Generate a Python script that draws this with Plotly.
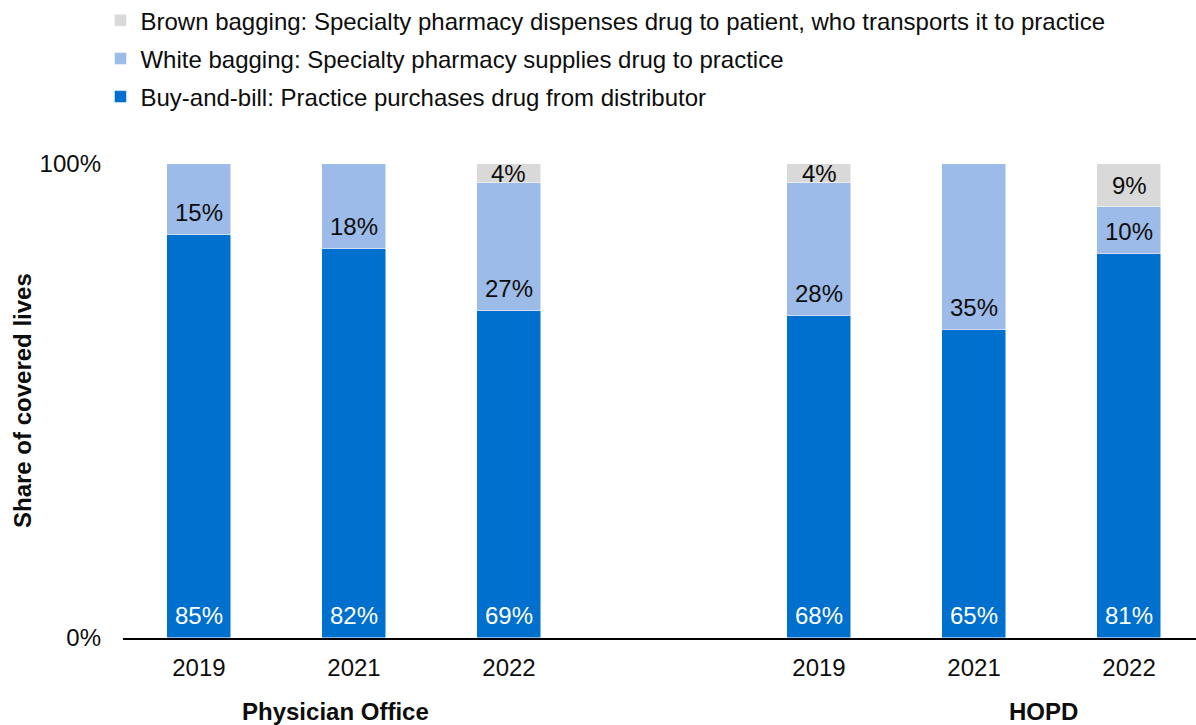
import plotly.graph_objects as go

# ---- data ----
groups = ["Physician Office", "HOPD"]
years = ["2019", "2021", "2022", "2019", "2021", "2022"]
x_pos = [0, 1, 2, 4, 5, 6]
buy_and_bill = [85, 82, 69, 68, 65, 81]
white_bagging = [15, 18, 27, 28, 35, 10]
brown_bagging = [0, 0, 4, 4, 0, 9]

series_names = [
    "Buy-and-bill: Practice purchases drug from distributor",
    "White bagging: Specialty pharmacy supplies drug to practice",
    "Brown bagging: Specialty pharmacy dispenses drug to patient, who transports it to practice",
]
colors = ["#0070CE", "#9DBBE8", "#D9D9D9"]
text_colors = ["white", "#0d0d0d", "#0d0d0d"]
legend_ranks = [3, 2, 1]
y_title = "Share of covered lives"

FONT = "Liberation Sans, Arial, sans-serif"
FS = 24
PLOT_H = 474  # plot area height in px (for label offset)

all_series = [buy_and_bill, white_bagging, brown_bagging]

fig = go.Figure()
for i, (name, vals, col, rank) in enumerate(zip(series_names, all_series,
                                                 colors, legend_ranks)):
    fig.add_trace(go.Bar(
        x=x_pos, y=vals, name=name,
        legendgroup=f"g{i}", legendrank=rank,
        marker=dict(color=col, line=dict(color="white", width=0.5)),
        width=0.415,
        hoverinfo="skip",
    ))

# data labels: placed near the bottom of each segment ("inside base")
base = [0] * len(x_pos)
for vals, tcol in zip(all_series, text_colors):
    for j, v in enumerate(vals):
        if v > 0:
            seg_px = v / 100 * PLOT_H
            fig.add_annotation(
                x=x_pos[j], y=base[j], xref="x", yref="y",
                yanchor="middle", yshift=min(22.5, seg_px / 2),
                text=f"{v}%", showarrow=False,
                font=dict(size=FS, family=FONT, color=tcol),
            )
        base[j] += v

fig.update_layout(
    width=1196, height=725,
    barmode="stack",
    bargap=0,
    plot_bgcolor="white", paper_bgcolor="white",
    margin=dict(l=123, r=0, t=164, b=87, autoexpand=False),
    font=dict(family=FONT, size=FS, color="#0d0d0d"),
    showlegend=True,
    legend=dict(
        traceorder="grouped",
        tracegroupgap=4,
        orientation="v",
        x=-0.021, y=1.35, xanchor="left", yanchor="top",
        font=dict(size=FS, family=FONT, color="#0d0d0d"),
        itemwidth=30,
        bgcolor="rgba(0,0,0,0)",
    ),
    xaxis=dict(
        range=[-0.49, 6.432],
        tickvals=x_pos, ticktext=years,
        showgrid=False, zeroline=False,
        showline=True, linecolor="black", linewidth=2,
        ticks="", ticklabelstandoff=7,
        tickfont=dict(size=FS, family=FONT, color="#0d0d0d"),
        fixedrange=True,
    ),
    yaxis=dict(
        range=[0, 100],
        tickvals=[0, 100], ticktext=["0%", "100%"],
        showgrid=True, gridcolor="black", gridwidth=2,
        zeroline=False, showline=False,
        ticks="", ticklabelstandoff=21,
        tickfont=dict(size=FS, family=FONT, color="#0d0d0d"),
        fixedrange=True,
    ),
)

# y-axis title
fig.add_annotation(
    x=0, y=0.5, xref="paper", yref="paper",
    xanchor="center", yanchor="middle", xshift=-101,
    textangle=-90, text=f"<b>{y_title}</b>", showarrow=False,
    font=dict(size=FS, family=FONT, color="#0d0d0d"),
)

# group labels under the year ticks
group_centers = [1.0, 5.0]
for g, cx, dx in zip(groups, group_centers, [-0.12, 0.445]):
    fig.add_annotation(
        x=cx + dx, y=0, xref="x", yref="y",
        yanchor="middle", yshift=-73,
        text=f"<b>{g}</b>", showarrow=False,
        font=dict(size=FS, family=FONT, color="#0d0d0d"),
    )

fig.write_html("out.html")
